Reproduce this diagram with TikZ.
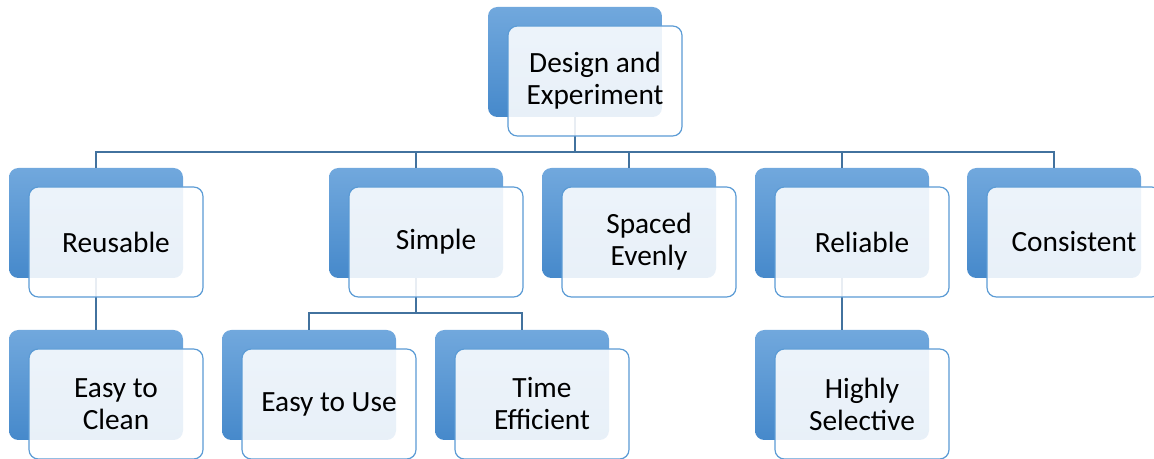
\documentclass[tikz,border=0pt]{standalone}
\usepackage{fontspec}
\setmainfont{Carlito}
\definecolor{boxblue}{RGB}{91,155,213}
\definecolor{boxtop}{RGB}{113,168,221}
\definecolor{boxbot}{RGB}{70,137,203}
\definecolor{linkblue}{RGB}{66,114,158}
\tikzset{
  backbox/.style={rounded corners=7pt, minimum width=130.5pt, minimum height=82.5pt,
                  inner sep=0pt, top color=boxtop, bottom color=boxbot},
  frontbox/.style={draw=boxblue, line width=0.9pt, rounded corners=7pt, fill=white,
                   fill opacity=0.88, text opacity=1, minimum width=130.5pt,
                   minimum height=82.5pt, inner sep=0pt, align=center,
                   font=\fontsize{22}{24}\selectfont},
  link/.style={draw=linkblue, line width=0.9pt}
}
\begin{document}
\begin{tikzpicture}[x=0.75pt, y=-0.75pt]
\useasboundingbox (0,0) rectangle (1154,459);
% back boxes
\node[backbox] (design)     at (575,62)  {};
\node[backbox] (reusable)   at (96,223)  {};
\node[backbox] (simple)     at (416,223) {};
\node[backbox] (spaced)     at (629,223) {};
\node[backbox] (reliable)   at (842,223) {};
\node[backbox] (consistent) at (1054,223) {};
\node[backbox] (clean)      at (96,385)  {};
\node[backbox] (easyuse)    at (309,385) {};
\node[backbox] (timeeff)    at (522,385) {};
\node[backbox] (selective)  at (842,385) {};
% connectors
\coordinate (topbus) at (575,152);
\foreach \c in {reusable,simple,spaced,reliable,consistent}
  \draw[link] (design.south) -- (topbus) -| (\c.north);
\draw[link] (reusable.south) -- (clean.north);
\coordinate (simplebus) at (416,313);
\foreach \c in {easyuse,timeeff}
  \draw[link] (simple.south) -- (simplebus) -| (\c.north);
\draw[link] (reliable.south) -- (selective.north);
% front boxes
\node[frontbox] (designtxt)     at ([shift={(20,19)}]design)     {Design and\\Experiment};
\node[frontbox] (reusabletxt)   at ([shift={(20,19)}]reusable)   {Reusable};
\node[frontbox] (simpletxt)     at ([shift={(20,19)}]simple)     {Simple};
\node[frontbox] (spacedtxt)     at ([shift={(20,19)}]spaced)     {Spaced\\Evenly};
\node[frontbox] (reliabletxt)   at ([shift={(20,19)}]reliable)   {Reliable};
\node[frontbox] (consistenttxt) at ([shift={(20,19)}]consistent) {Consistent};
\node[frontbox] (cleantxt)      at ([shift={(20,19)}]clean)      {Easy to\\Clean};
\node[frontbox] (easyusetxt)    at ([shift={(20,19)}]easyuse)    {Easy to Use};
\node[frontbox] (timeefftxt)    at ([shift={(20,19)}]timeeff)    {Time\\Efficient};
\node[frontbox] (selectivetxt)  at ([shift={(20,19)}]selective)  {Highly\\Selective};
\end{tikzpicture}
\end{document}
